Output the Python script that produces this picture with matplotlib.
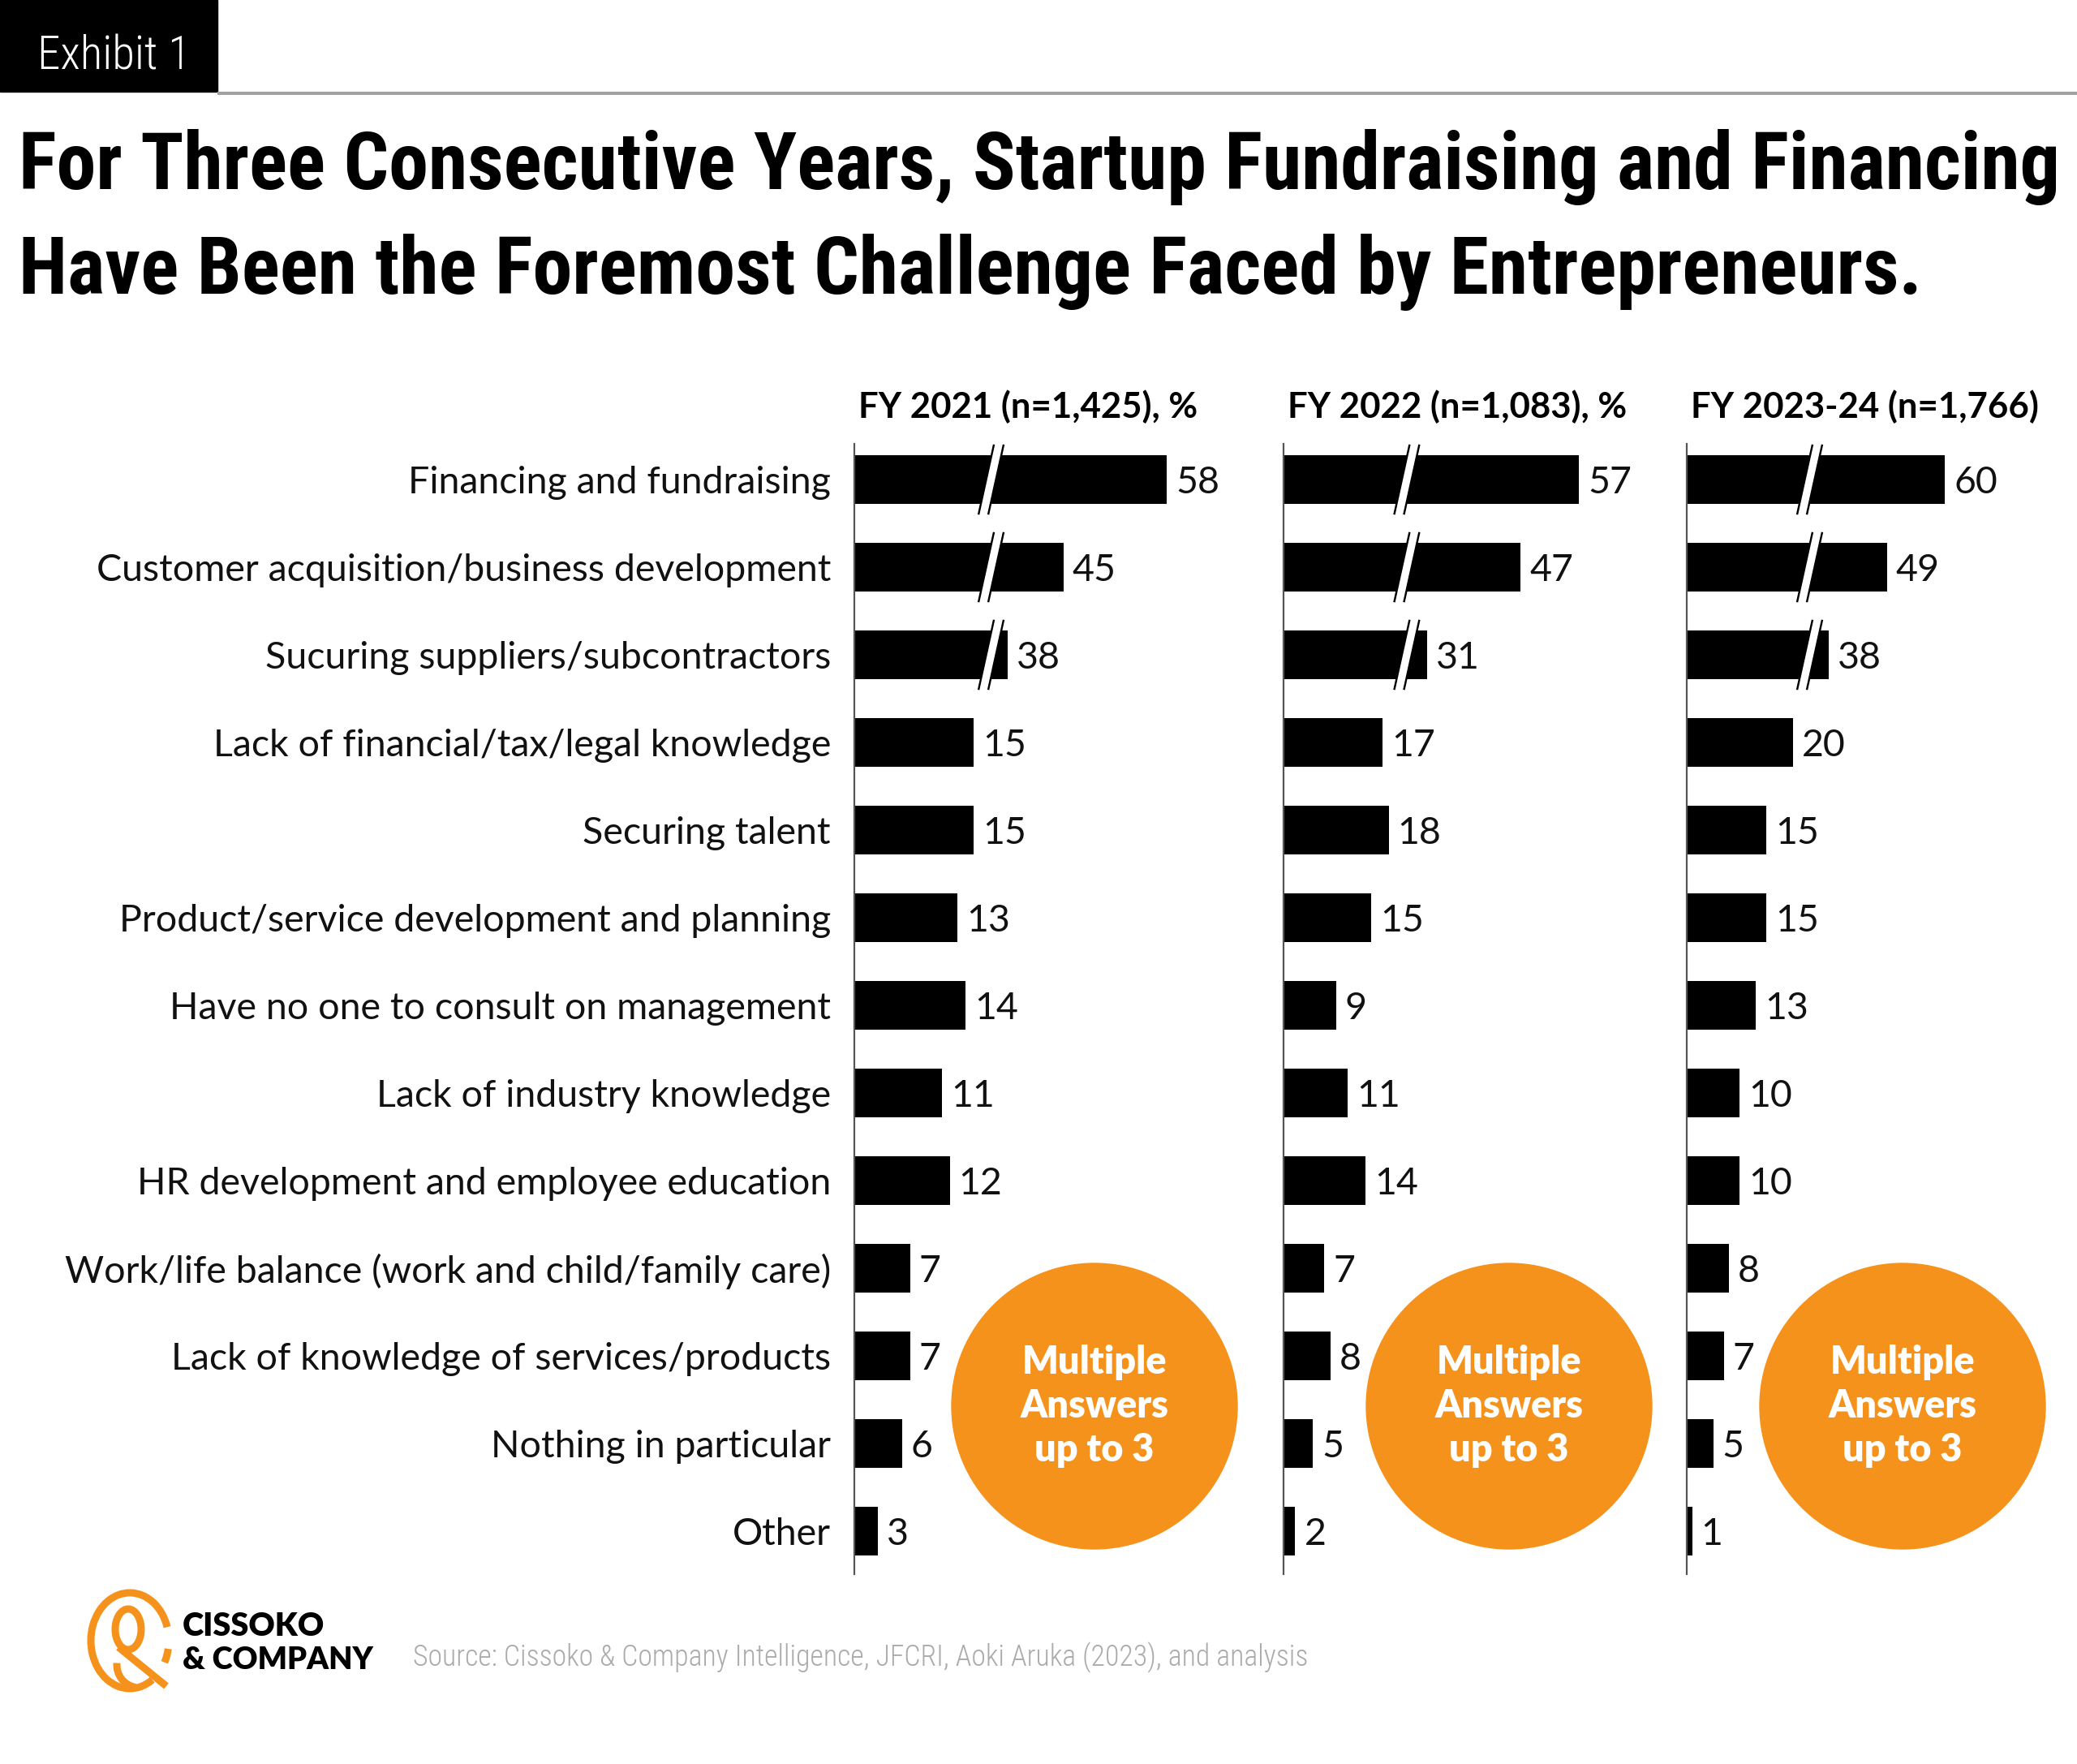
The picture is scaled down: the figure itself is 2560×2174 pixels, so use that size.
import matplotlib
matplotlib.use('Agg')
import matplotlib.pyplot as plt
from matplotlib.patches import Rectangle, Circle, Arc, Polygon

W, H = 2560, 2174
DPI = 100
PT = 72 / DPI   # points per pixel

# ---- data ----
categories = ['Financing and fundraising',
              'Customer acquisition/business development',
              'Sucuring suppliers/subcontractors',
              'Lack of financial/tax/legal knowledge',
              'Securing talent',
              'Product/service development and planning',
              'Have no one to consult on management',
              'Lack of industry knowledge',
              'HR development and employee education',
              'Work/life balance (work and child/family care)',
              'Lack of knowledge of services/products',
              'Nothing in particular',
              'Other']
fy2021 = [58, 45, 38, 15, 15, 13, 14, 11, 12, 7, 7, 6, 3]
fy2022 = [57, 47, 31, 17, 18, 15, 9, 11, 14, 7, 8, 5, 2]
fy2024 = [60, 49, 38, 20, 15, 15, 13, 10, 10, 8, 7, 5, 1]
headers = ['FY 2021 (n=1,425), %', 'FY 2022 (n=1,083), %', 'FY 2023-24 (n=1,766)']
title_lines = ['For Three Consecutive Years, Startup Fundraising and Financing',
               'Have Been the Foremost Challenge Faced by Entrepreneurs.']
bubble_text = ['Multiple', 'Answers', 'up to 3']
source = 'Source: Cissoko & Company Intelligence, JFCRI, Aoki Aruka (2023), and analysis'

# panel layout: left px, px per unit, amount cut out by the axis break, break position
panels = [
    dict(vals=fy2021, left=1053, sx=9.8, cut=18.7, brk=17.2, circ=1349),
    dict(vals=fy2022, left=1582, sx=7.2, cut=6.4, brk=21.1, circ=1860),
    dict(vals=fy2024, left=2079, sx=6.53, cut=11.25, brk=23.2, circ=2345),
]
BREAK_ABOVE = 25
ORANGE = '#F5921C'
COND = ['Roboto Condensed', 'Lato', 'DejaVu Sans']
LATO = ['Lato', 'DejaVu Sans']

fig = plt.figure(figsize=(W / DPI, H / DPI), dpi=DPI)
fig.patch.set_facecolor('white')
renderer = fig.canvas.get_renderer()


def fit(txt, width_px, **kw):
    t = fig.text(0, 0, txt, fontsize=40, **kw)
    w = t.get_window_extent(renderer).width
    t.remove()
    return 40 * width_px / w


# background layer in pixel coordinates
bg = fig.add_axes([0, 0, 1, 1], zorder=0)
bg.set_xlim(0, W)
bg.set_ylim(H, 0)
bg.axis('off')

# exhibit tag + rule
bg.add_patch(Rectangle((0, 0), 268, 113, color='black'))
bg.plot([268, W], [115, 115], color='#a0a0a0', lw=4 * PT, solid_capstyle='butt')
s = fit('Exhibit 1', 189, family=COND, weight='light')
bg.text(46, 64, 'Exhibit 1', color='white', fontsize=s, family=COND,
        weight='light', va='center_baseline', ha='left')

# title
s = fit(title_lines[0], 2513, family=COND, weight='heavy')
bg.text(23, 233, title_lines[0], fontsize=s, family=COND, weight='heavy', va='baseline')
bg.text(23, 362, title_lines[1], fontsize=s, family=COND, weight='heavy', va='baseline')

# fonts for panels
lab_size = fit(categories[9], 946, family=LATO)
head_size = fit(headers[0], 418, family=LATO, weight='bold')
bub_size = fit(bubble_text[0], 178, family=LATO, weight='heavy')

TOP, BOT = 547, 1940
ROW = 108.0
y0 = -(591 - TOP) / ROW
y1 = (BOT - 591) / ROW
bar_h = 0.55

for k, p in enumerate(panels):
    width_px = 480
    ax = fig.add_axes([p['left'] / W, 1 - BOT / H, width_px / W, (BOT - TOP) / H], zorder=1)
    ax.patch.set_alpha(0)
    ax.set_xlim(0, width_px / p['sx'])
    ax.set_ylim(y1, y0)
    for side in ['top', 'right', 'bottom']:
        ax.spines[side].set_visible(False)
    ax.spines['left'].set_color('#555555')
    ax.spines['left'].set_linewidth(2.2 * PT)
    ax.set_xticks([])
    ax.set_yticks(range(len(categories)))
    if k == 0:
        ax.set_yticklabels(categories, fontsize=lab_size, family=LATO, color='#111111')
        ax.tick_params(axis='y', length=0, pad=29 * PT)
    else:
        ax.set_yticklabels([])
        ax.tick_params(axis='y', length=0)

    shown = [v - p['cut'] if v > BREAK_ABOVE else v for v in p['vals']]
    ax.barh(range(len(shown)), shown, height=bar_h, color='black', zorder=2)

    gap = 11 / p['sx']
    for i, (v, d) in enumerate(zip(p['vals'], shown)):
        ax.text(d + gap, i, str(v), fontsize=lab_size, family=LATO, color='#111111',
                va='center_baseline', ha='left')
        if v > BREAK_ABOVE:
            # slanted break marks
            sl = 9.5 / p['sx']        # half of the slant, in data units
            hg = 6 / p['sx']          # half of the white gap
            ext = 0.40
            b = p['brk']
            ax.add_patch(Polygon([(b - hg + sl, i - ext), (b + hg + sl, i - ext),
                                  (b + hg - sl, i + ext), (b - hg - sl, i + ext)],
                                 closed=True, color='white', zorder=3, lw=0))
            for off in (-hg, hg):
                ax.plot([b + off + sl, b + off - sl], [i - ext, i + ext],
                        color='black', lw=2.4 * PT, zorder=4, solid_capstyle='butt')

    bg.text(p['left'] + 5, 501, headers[k], fontsize=head_size, family=LATO,
            weight='bold', va='center', ha='left')

    # "multiple answers" bubble
    cy = 1733
    bg.add_patch(Circle((p['circ'], cy), 176, color=ORANGE, zorder=1))
    for j, line in enumerate(bubble_text):
        bg.text(p['circ'], cy + (j - 1) * 54, line, fontsize=bub_size, family=LATO,
                weight='heavy', color='white', ha='center', va='center', zorder=2)

# logo
lw_logo = 9 * PT
bg.add_patch(Arc((160, 2022), 96, 118, theta1=60, theta2=340, color=ORANGE, lw=lw_logo))
bg.add_patch(Arc((160, 2022), 96, 118, theta1=12, theta2=32, color=ORANGE, lw=lw_logo))
bg.add_patch(Arc((158, 2008), 32, 50, color=ORANGE, lw=lw_logo))
bg.plot([146, 205], [2030, 2078], color=ORANGE, lw=lw_logo, solid_capstyle='butt')
bg.add_patch(Arc((172, 2052), 56, 56, theta1=100, theta2=185, color=ORANGE, lw=lw_logo))
s = fit('CISSOKO', 175, family=LATO, weight='heavy')
bg.text(225, 2005, 'CISSOKO', fontsize=s, family=LATO, weight='heavy', va='center')
s = fit('& COMPANY', 235, family=LATO, weight='heavy')
bg.text(225, 2046, '& COMPANY', fontsize=s, family=LATO, weight='heavy', va='center')

s = fit(source, 1101, family=COND, weight='light')
bg.text(509, 2043, source, fontsize=s, family=COND, weight='light', color='#ababab',
        va='center', ha='left')

fig.savefig('out.png', dpi=DPI, facecolor='white')
